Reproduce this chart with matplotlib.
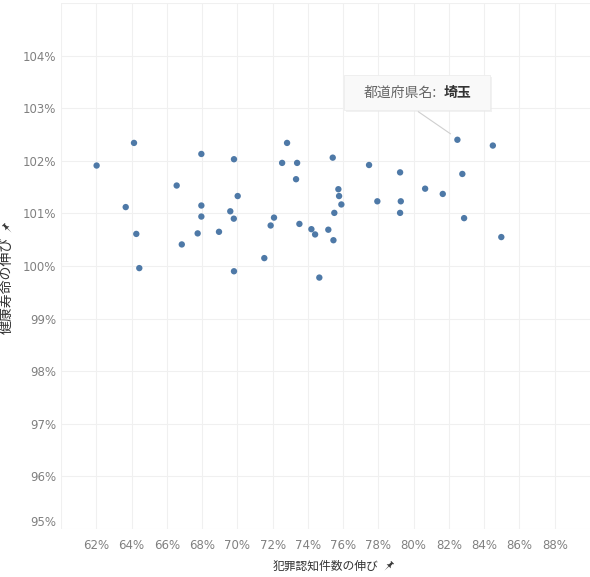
import numpy as np
import matplotlib
matplotlib.use("Agg")
import matplotlib.pyplot as plt
from matplotlib.path import Path
from matplotlib.lines import Line2D
from matplotlib.patches import Rectangle

plt.rcParams['font.family'] = ['Noto Sans CJK JP', 'DejaVu Sans']

# 犯罪認知件数の伸び (%) / 健康寿命の伸び (%)  -- 47 prefectures
crime_growth = [62.02, 64.14, 67.96, 69.81, 66.56, 70.02, 63.67, 67.96, 69.60, 67.96,
                69.80, 64.27, 67.75, 68.96, 66.85, 64.44, 69.81, 72.82, 72.54, 73.39,
                75.41, 77.47, 79.23, 73.33, 80.65, 75.73, 75.77, 75.90, 77.94, 79.27,
                79.23, 75.50, 72.08, 71.89, 73.52, 74.20, 75.16, 74.41, 75.45, 71.53,
                74.65, 82.48, 84.49, 82.76, 81.65, 82.86, 84.97]
life_growth = [101.91, 102.34, 102.13, 102.03, 101.53, 101.33, 101.12, 101.15, 101.04, 100.94,
               100.90, 100.61, 100.62, 100.65, 100.41, 99.96, 99.90, 102.34, 101.96, 101.96,
               102.06, 101.92, 101.78, 101.65, 101.47, 101.46, 101.33, 101.17, 101.23, 101.23,
               101.01, 101.01, 100.92, 100.77, 100.80, 100.70, 100.69, 100.60, 100.49, 100.15,
               99.78, 102.40, 102.29, 101.75, 101.37, 100.91, 100.55]

x_ticks = list(range(62, 90, 2))
y_ticks = list(range(95, 105))
highlight_name = '埼玉'
highlight_idx = 41

W, H = 590, 577
fig = plt.figure(figsize=(W / 100, H / 100), dpi=100)
ax = fig.add_axes([61 / W, 48 / H, 529 / W, 526 / H])
ax.set_xlim(60, 90)
ax.set_ylim(95, 105)

grid_c = '#f0f0f0'
tick_c = '#808080'
for s in ax.spines.values():
    s.set_visible(False)
ax.set_xticks(x_ticks)
ax.set_xticklabels([f'{v}%' for v in x_ticks], family='DejaVu Sans')
ax.set_yticks(y_ticks)
ax.set_yticklabels(['' if v == 95 else f'{v}%' for v in y_ticks], family='DejaVu Sans')
ax.tick_params(length=0, labelsize=8.5, labelcolor=tick_c)
ax.tick_params(axis='y', pad=3.5)
ax.tick_params(axis='x', pad=7.5)
ax.grid(True, color=grid_c, lw=0.8)
ax.set_axisbelow(True)
ax.axvline(60, color=grid_c, lw=0.8)
ax.axhline(105, color=grid_c, lw=0.8)
# bottom tick label sits a little above its grid line
ax.text(-0.0095, 95, '95%', transform=ax.get_yaxis_transform(), ha='right', va='bottom',
        fontsize=8.5, color=tick_c, family='DejaVu Sans')

ax.scatter(crime_growth, life_growth, s=21, color='#4e79a7', edgecolors='none', zorder=3)

# pin icon
pin = np.array([(-0.35, 1), (0.35, 1), (0.35, 0.85), (0.2, 0.85), (0.2, 0.35), (0.5, 0.05),
                (0.06, 0.05), (0, -1), (-0.06, 0.05), (-0.5, 0.05), (-0.2, 0.35), (-0.2, 0.85),
                (-0.35, 0.85), (-0.35, 1)])


def rot(pts, deg):
    a = np.deg2rad(deg)
    r = np.array([[np.cos(a), -np.sin(a)], [np.sin(a), np.cos(a)]])
    return pts @ r.T


def add_pin(px, py, deg):
    path = Path(rot(pin, deg))
    fig.add_artist(Line2D([px / W], [1 - py / H], transform=fig.transFigure, marker=path,
                          markersize=8, color='#3a3a3a', markeredgewidth=0))


label_c = '#333333'
xl = fig.text(326 / W, 1 - 566 / H, '犯罪認知件数の伸び', ha='center', va='center',
              fontsize=8.5, color=label_c)
yl = fig.text(7 / W, 1 - 285 / H, '健康寿命の伸び', ha='center', va='center',
              rotation=90, fontsize=10, color=label_c)

fig.canvas.draw()
r = fig.canvas.get_renderer()
bx = xl.get_window_extent(r)
add_pin(bx.x1 + 9, 566, -45)
by = yl.get_window_extent(r)
add_pin(7, H - by.y1 - 8, 45)

# tooltip for Saitama
px, py = ax.transData.transform((crime_growth[highlight_idx], life_growth[highlight_idx]))
py = H - py  # pixels from top


def fx(x):
    return x / W


def fy(y):
    return 1 - y / H


shadow = Rectangle((fx(px - 111), fy(py - 28)), 146 / W, 35 / H, transform=fig.transFigure,
                   facecolor='#e9e9e9', edgecolor='none', alpha=0.6, zorder=4)
fig.add_artist(shadow)
box = Rectangle((fx(px - 113), fy(py - 30)), 146 / W, 35 / H, transform=fig.transFigure,
                facecolor='#f9f9f9', edgecolor='#ededed', lw=0.6, zorder=5)
fig.add_artist(box)
fig.add_artist(Line2D([fx(px - 39), fx(px - 7)], [fy(py - 28), fy(py - 6)],
                      transform=fig.transFigure, color='#cfcfcf', lw=0.8, zorder=5))
fig.text(fx(px - 20), fy(py - 47), '都道府県名:', ha='right', va='center', fontsize=10,
         color='#666666', zorder=6)
fig.text(fx(px - 14), fy(py - 47), highlight_name, ha='left', va='center', fontsize=10,
         fontweight='bold', color='#333333', zorder=6)

fig.savefig('out.png', dpi=100)
